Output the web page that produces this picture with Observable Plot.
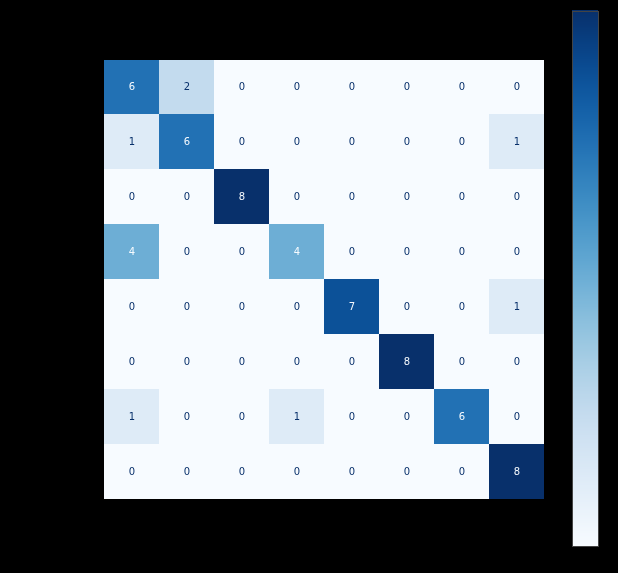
<!DOCTYPE html>
<html>
<head>
<meta charset="utf-8">
<script src="https://cdn.jsdelivr.net/npm/d3@7"></script>
<script src="https://cdn.jsdelivr.net/npm/@observablehq/plot@0.6"></script>
<style>
  html, body { margin: 0; padding: 0; background: #000; }
  #wrap { position: relative; width: 618px; height: 573px; background: #000; overflow: hidden; }
  #wrap > div, #wrap > svg { position: absolute; }
  .celltext { opacity: 0.999; will-change: transform; }
</style>
</head>
<body>
<div id="wrap"></div>
<script>
const classes = ["0", "1", "2", "3", "4", "5", "6", "7"];
const matrix = [
  [6, 2, 0, 0, 0, 0, 0, 0],
  [1, 6, 0, 0, 0, 0, 0, 1],
  [0, 0, 8, 0, 0, 0, 0, 0],
  [4, 0, 0, 4, 0, 0, 0, 0],
  [0, 0, 0, 0, 7, 0, 0, 1],
  [0, 0, 0, 0, 0, 8, 0, 0],
  [1, 0, 0, 1, 0, 0, 6, 0],
  [0, 0, 0, 0, 0, 0, 0, 8]
];
const colorbarTicks = [0, 1, 2, 3, 4, 5, 6, 7, 8];
const xLabel = "Predicted label";
const yLabel = "True label";

const cells = [];
matrix.forEach((row, i) => row.forEach((v, j) => cells.push({ truth: classes[i], pred: classes[j], value: v })));
const vmin = d3.min(cells, d => d.value), vmax = d3.max(cells, d => d.value);
const thresh = (vmin + vmax) / 2;
const cmin = d3.interpolateBlues(0), cmax = d3.interpolateBlues(1);

const wrap = document.getElementById("wrap");

const main = Plot.plot({
  width: 618,
  height: 573,
  marginLeft: 103,
  marginRight: 74,
  marginTop: 59,
  marginBottom: 74,
  style: { background: "transparent", fontFamily: "DejaVu Sans, sans-serif", fontSize: "10px", color: "#000" },
  x: { domain: classes, padding: 0, label: xLabel, labelAnchor: "center", labelOffset: 40, tickSize: 4 },
  y: { domain: classes, padding: 0, label: yLabel, labelAnchor: "center", labelOffset: 40, tickSize: 4 },
  color: { type: "linear", domain: [vmin, vmax], interpolate: d3.interpolateBlues },
  marks: [
    Plot.cell(cells, { x: "pred", y: "truth", fill: "value", shapeRendering: "crispEdges" }),
    Plot.text(cells.filter(d => d.value < thresh), { x: "pred", y: "truth", text: d => String(d.value), fill: cmax, fontSize: 10, className: "celltext" }),
    Plot.text(cells.filter(d => d.value >= thresh), { x: "pred", y: "truth", text: d => String(d.value), fill: cmin, fontSize: 10, className: "celltext" }),
    Plot.frame({ stroke: "#000", strokeWidth: 1 }),
    Plot.axisX({ anchor: "bottom", color: "#000", label: xLabel, labelAnchor: "center", labelArrow: "none", labelOffset: 40 }),
    Plot.axisY({ anchor: "left", color: "#000", label: yLabel, labelAnchor: "center", labelArrow: "none", labelOffset: 40 })
  ]
});
main.style.left = "0px";
main.style.top = "0px";
wrap.appendChild(main);

const steps = d3.range(0, 512).map(k => ({ lo: vmin + (vmax - vmin) * k / 512, hi: vmin + (vmax - vmin) * (k + 1) / 512 }));
const bar = Plot.plot({
  width: 30,
  height: 537,
  marginLeft: 1,
  marginRight: 3,
  marginTop: 1,
  marginBottom: 1,
  style: { background: "transparent", fontFamily: "DejaVu Sans, sans-serif", fontSize: "10px", color: "#000" },
  x: { axis: null, domain: [0, 1] },
  y: { domain: [vmin, vmax], axis: null },
  color: { type: "linear", domain: [vmin, vmax], interpolate: d3.interpolateBlues },
  marks: [
    Plot.rect(steps, { x1: 0, x2: 1, y1: "lo", y2: "hi", fill: d => (d.lo + d.hi) / 2, insetTop: -0.6, shapeRendering: "crispEdges" }),
    Plot.frame({ stroke: "#444", strokeWidth: 1 }),
    Plot.axisY(colorbarTicks, { anchor: "right", color: "#000", tickSize: 3, tickFormat: () => "" })
  ]
});
bar.style.left = "571px";
bar.style.top = "10px";
wrap.appendChild(bar);
</script>
</body>
</html>
